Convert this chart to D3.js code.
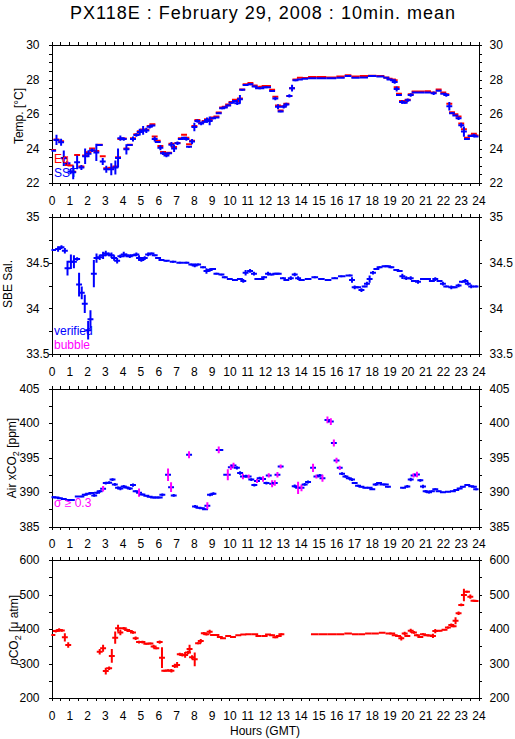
<!DOCTYPE html>
<html>
<head>
<meta charset="utf-8">
<script src="https://cdn.jsdelivr.net/npm/d3@7"></script>
<style>
body { margin: 0; background: #fff; }
text { font-family: "Liberation Sans", Arial, sans-serif; }
</style>
</head>
<body>
<svg id="chart" width="515" height="739"></svg>
<script>
// hour tick labels
const hourLabels = d3.range(0, 25)

// panel 1 : temperature
const tempHours = [0.09,0.28,0.54,0.69,0.9,1.07,1.22,1.44,1.68,1.89,2.08,2.28,2.52,2.71,2.88,3.08,3.36,3.59,3.74,3.87,
  4.06,4.21,4.4,4.58,4.77,4.96,5.15,5.33,5.52,5.67,5.8,5.97,6.12,6.27,6.46,6.61,6.74,6.89,7.08,7.27,
  7.45,7.58,7.73,7.9,8.03,8.2,8.41,8.61,8.74,8.89,9.08,9.27,9.4,9.59,9.74,9.93,10.12,10.31,10.44,10.59,
  10.72,10.91,11.18,11.42,11.61,11.8,11.98,12.17,12.4,12.58,12.73,12.88,13.05,13.2,13.37,13.52,13.71,13.96,14.23,14.61,
  15.17,15.73,16.29,16.67,17.04,17.6,17.98,18.54,18.82,19.0,19.19,19.29,19.4,19.53,19.7,19.85,20.02,20.19,20.41,20.79,
  21.16,21.48,21.76,22.02,22.19,22.36,22.51,22.7,22.88,23.03,23.18,23.35,23.56,23.74,23.89]
const sstValues = [23.87,24.5,24.36,23.43,23.14,22.66,22.62,23.2,22.9,23.55,23.7,23.9,23.77,24.2,23.25,22.8,22.8,22.9,23.45,24.6,
  24.55,23.95,24.2,24.55,24.78,24.95,25.05,25.05,25.26,25.33,24.55,24.38,24.05,23.72,23.6,23.72,24.22,24.0,24.3,24.55,
  24.62,24.55,24.1,24.4,25.25,25.6,25.45,25.55,25.65,25.6,25.75,25.8,26.05,26.33,26.38,26.5,26.65,26.75,26.62,26.85,
  27.4,27.68,27.72,27.6,27.5,27.5,27.55,27.55,27.33,26.9,26.42,26.15,26.42,26.55,27.05,27.5,27.95,28.0,28.05,28.07,
  28.07,28.07,28.1,28.2,28.1,28.12,28.2,28.17,28.1,28.0,27.95,27.85,27.45,27.1,26.7,26.65,26.8,27.1,27.25,27.25,
  27.25,27.2,27.35,27.17,27.1,26.45,26.05,25.92,25.75,25.35,24.98,24.55,24.72,24.75,24.7]
const sstSd = [0,0.3,0.2,0.45,0.1,0.15,0.4,0.4,0.15,0.45,0.2,0.1,0.5,0.05,0.2,0.2,0.35,0.4,0.55,0.15,
  0.1,0.3,0.05,0.15,0.1,0.2,0.25,0.15,0.1,0.05,0.15,0.05,0.15,0.1,0.1,0.05,0.15,0.2,0.1,0.05,
  0.05,0.1,0.05,0.15,0.25,0.1,0.1,0.05,0.15,0.25,0.05,0,0.05,0.05,0.05,0.05,0.05,0.05,0.1,0.25,
  0.05,0.05,0.05,0.05,0.05,0,0,0,0.05,0.1,0.15,0.05,0.1,0.1,0.1,0.2,0.05,0,0,0,
  0,0,0,0,0,0,0,0,0,0,0,0.1,0.15,0.05,0.1,0.05,0.1,0.1,0,0,
  0,0.1,0,0,0.1,0.25,0.05,0,0.1,0.15,0.3,0.05,0.05,0.1,0]
const eqValues = [23.92,24.52,24.42,23.45,23.05,23.02,22.65,23.62,22.95,23.6,23.78,24.0,23.85,24.22,23.55,22.85,22.88,22.95,23.5,24.55,
  24.58,24.0,24.22,24.6,24.82,25.0,25.1,25.08,25.3,25.4,24.7,24.45,24.15,23.8,23.68,23.75,24.28,24.08,24.32,24.6,
  24.8,24.62,24.25,24.45,25.3,25.65,25.5,25.6,25.7,25.65,25.8,25.85,26.08,26.38,26.42,26.55,26.7,26.82,26.75,26.9,
  27.42,27.72,27.8,27.65,27.55,27.58,27.62,27.62,27.4,27.0,26.5,26.2,26.45,26.6,27.05,27.5,28.0,28.1,28.08,28.15,
  28.15,28.12,28.18,28.25,28.18,28.2,28.22,28.2,28.12,28.05,28.0,27.95,27.55,27.18,26.75,26.72,26.82,27.15,27.3,27.3,
  27.32,27.25,27.42,27.25,27.15,26.6,26.1,25.98,25.85,25.45,25.12,24.62,24.75,24.85,24.75]

// panel 2 : salinity
const salHours = [0.09,0.37,0.56,0.75,0.9,1.09,1.26,1.44,1.55,1.7,1.87,2.06,2.19,2.38,2.53,2.71,2.9,3.05,3.22,3.37,
  3.52,3.69,3.87,4.06,4.21,4.4,4.58,4.77,4.92,5.05,5.24,5.43,5.62,5.8,5.99,6.18,6.46,6.83,7.21,7.58,
  7.86,8.05,8.24,8.52,8.71,8.89,9.08,9.27,9.55,9.74,10.02,10.31,10.59,10.78,10.91,11.16,11.38,11.57,11.8,11.95,
  12.17,12.36,12.58,12.77,13.01,13.2,13.45,13.67,13.86,14.05,14.42,14.8,15.17,15.54,15.92,16.29,16.76,16.89,17.04,17.23,
  17.42,17.6,17.73,17.88,18.07,18.26,18.44,18.72,18.91,19.1,19.38,19.57,19.72,19.94,20.19,20.37,20.6,20.88,21.16,21.38,
  21.57,21.81,22.0,22.19,22.47,22.66,22.88,23.07,23.26,23.4,23.59,23.87]
const salValues = [34.64,34.65,34.67,34.63,34.44,34.51,34.51,34.54,34.26,34.17,34.05,33.76,33.88,34.38,34.55,34.56,34.58,34.6,34.59,34.58,
  34.55,34.52,34.57,34.59,34.58,34.57,34.58,34.59,34.55,34.53,34.55,34.59,34.6,34.58,34.55,34.53,34.52,34.51,34.5,34.5,
  34.48,34.47,34.48,34.45,34.41,34.42,34.43,34.38,34.37,34.34,34.32,34.31,34.32,34.3,34.39,34.41,34.38,34.32,34.32,34.34,
  34.38,34.37,34.38,34.38,34.33,34.31,34.33,34.37,34.33,34.31,34.32,34.34,34.32,34.31,34.33,34.35,34.36,34.31,34.23,34.23,
  34.2,34.24,34.27,34.32,34.39,34.43,34.45,34.46,34.46,34.45,34.42,34.41,34.35,34.33,34.33,34.3,34.29,34.32,34.32,34.3,
  34.32,34.3,34.27,34.24,34.23,34.23,34.25,34.29,34.3,34.27,34.24,34.24]
const salSd = [0.01,0.03,0.02,0.03,0.08,0.08,0.07,0.02,0.13,0.07,0.1,0.1,0.1,0.15,0.05,0.03,0.04,0.03,0.02,0.03,
  0.03,0.03,0.02,0.03,0.02,0.02,0.01,0.02,0.03,0.02,0.02,0.02,0.01,0.01,0.01,0.01,0.01,0.01,0.01,0.01,
  0.01,0.02,0.01,0.01,0.03,0.02,0.01,0.01,0.01,0.01,0.01,0.01,0.01,0.02,0.03,0.02,0.02,0.01,0.01,0.01,
  0.02,0.01,0.01,0.01,0.01,0.01,0.02,0.02,0.02,0.01,0.01,0.01,0.01,0.01,0.01,0.01,0.01,0.03,0.02,0.01,
  0.02,0.01,0.02,0.04,0.02,0.01,0.01,0.01,0.01,0.01,0.01,0.01,0.03,0.02,0.02,0.01,0.02,0.01,0.01,0.01,
  0.02,0.01,0.02,0.01,0.02,0.01,0.02,0.01,0.02,0.02,0.02,0.01]

// panel 3 : air xCO2
const xco2Hours = [0.09,0.28,0.47,0.69,0.94,1.68,1.87,2.06,2.24,2.4,2.56,2.71,2.9,3.05,3.24,3.43,3.56,3.74,3.87,4.06,
  4.21,4.4,4.58,4.73,4.92,5.11,5.33,5.52,5.71,5.89,6.08,6.23,6.55,6.72,6.87,7.73,8.07,8.26,8.45,8.63,
  8.76,8.91,9.1,9.4,9.91,10.08,10.23,10.42,10.6,10.76,10.93,11.08,11.23,11.4,11.55,11.7,11.89,12.08,12.21,12.4,
  12.55,12.7,12.88,13.67,13.86,14.05,14.23,14.42,14.7,14.89,15.08,15.23,15.51,15.7,15.87,16.02,16.2,16.33,16.52,16.71,
  16.89,17.04,17.23,17.42,17.64,17.88,18.03,18.22,18.41,18.6,18.79,18.91,19.76,20.0,20.19,20.35,20.54,20.73,20.88,21.03,
  21.22,21.38,21.57,21.76,22.0,22.28,22.56,22.75,22.94,23.12,23.37,23.59,23.74,23.87]
const xco2Values = [389.25,389.2,389.1,389.0,388.85,389.35,389.6,389.75,389.85,389.5,389.9,390.1,390.46,391.3,391.35,391.8,391.1,390.6,390.5,390.8,
  390.65,390.5,391.0,390.1,389.9,389.65,389.45,389.3,389.2,389.2,389.2,389.6,392.5,390.7,389.5,395.4,387.9,387.7,387.65,387.5,
  388.0,389.6,389.75,396.1,392.5,393.6,393.85,393.5,392.75,392.25,392.3,392.25,391.8,391.0,391.6,392.0,391.9,391.3,392.4,391.2,
  391.3,392.5,393.7,390.85,390.6,390.6,391.1,391.45,393.5,392.25,392.4,392.0,400.45,400.2,397.1,394.55,393.5,392.65,392.25,392.0,
  391.8,391.3,390.9,390.75,390.6,390.6,390.4,391.1,391.3,391.1,391.1,390.75,390.6,390.8,391.8,392.4,392.55,391.7,390.8,390.1,
  389.95,390.1,390.4,390.1,389.95,390.05,390.1,390.3,390.5,390.75,391.0,390.85,390.75,390.4]
const xco2Sd = [0.1,0.1,0.1,0.1,0.1,0.1,0.15,0.1,0.1,0.2,0.15,0.2,0.4,0.2,0.2,0.2,0.2,0.2,0.25,0.2,
  0.15,0.2,0.25,0.15,0.6,0.15,0.1,0.1,0.1,0.1,0.1,0.2,0.9,0.7,0.2,0.5,0.2,0.1,0.1,0.1,
  0.5,0.2,0.2,0.5,0.8,0.4,0.4,0.25,0.25,0.4,0.2,0.3,0.2,0.2,0.3,0.2,0.4,0.2,0.3,0.5,
  0.4,0.4,0.3,0.25,0.9,0.5,0.2,0.2,0.6,0.3,0.2,0.5,0.5,0.5,0.5,0.4,0.3,0.2,0.2,0.2,
  0.2,0.15,0.15,0.1,0.1,0.1,0.1,0.2,0.15,0.1,0.1,0.1,0.1,0.2,0.25,0.3,0.4,0.2,0.25,0.2,
  0.15,0.1,0.15,0.1,0.1,0.1,0.1,0.1,0.1,0.1,0.1,0.1,0.1,0.15]

// panel 4 : pCO2
const pco2Hours = [0.05,0.24,0.43,0.58,0.75,0.94,2.71,2.9,3.05,3.24,3.39,3.58,3.74,3.87,4.06,4.25,4.4,4.58,4.73,4.92,
  5.11,5.33,5.56,5.74,5.89,6.08,6.21,6.34,6.55,6.74,6.93,7.06,7.21,7.36,7.51,7.67,7.76,7.9,8.05,8.24,
  8.39,8.56,8.71,8.89,9.08,9.27,9.46,9.64,9.93,10.2,10.5,10.78,11.07,11.45,11.63,11.98,12.17,12.4,12.58,12.77,
  12.92,14.75,15.25,15.75,16.25,16.67,17.1,17.45,17.8,18.2,18.6,18.95,19.15,19.29,19.48,19.66,19.85,20.0,20.19,20.37,
  20.54,20.73,20.88,21.07,21.25,21.44,21.57,21.81,22.09,22.28,22.47,22.6,22.71,22.88,23.03,23.18,23.35,23.54,23.72,23.91]
const pco2Values = [382.6,394,397,396,376,353.6,334,344,278,286,322,375,402,390,402,397,394,390,373,362,
  362,357,358,349,344,362,317,279,280,279,293,296,327,325,325,332,342,318,312,358.5,
  365,387.5,385,392,382.6,382.6,377,373,380,377,382,384,385,385,380,380,384,382,376,380,
  385,385,385,385,385,387,385,385,387,387,389,387,387,382,380,373,387,380,395,390,
  382,377,385,382,381,380,394,395,398,404,411.6,408,424,445.5,469.6,498.6,508,493.7,482,481]
const pco2Sd = [3,4,5,4,12,8,8,10,10,5,20,18,10,8,4,4,3,4,5,4,
  4,3,3,5,3,5,30,3,3,5,6,8,4,5,8,5,12,6,20,3,
  6,4,4,6,3,0,2,2,0,2,0,0,0,0,0,0,0,2,3,2,
  3,0,0,0,0,0,0,0,0,0,0,0,0,2,2,6,5,3,6,4,
  3,3,3,2,2,6,6,2,2,3,4,3,10,5,4,18,3,6,3,0]

const svg = d3.select("#chart")
const left = 51.5, right = 478.5
const x = d3.scaleLinear().domain([0, 24]).range([left, right])

const panels = [
  {top: 45, bottom: 183, domain: [22, 30], major: 2, minor: 0.5},
  {top: 217, bottom: 354, domain: [33.5, 35], major: 0.5, minor: 0.25},
  {top: 388.5, bottom: 526.5, domain: [385, 405], major: 5, minor: 2.5},
  {top: 560, bottom: 698, domain: [200, 600], major: 100, minor: 50}
]

svg.append("text").attr("x", 263).attr("y", 18.5).attr("text-anchor", "middle")
  .attr("font-size", 18).attr("letter-spacing", 1).text("PX118E : February 29, 2008 : 10min. mean")

const clipRect = (id, p) => {
  svg.append("clipPath").attr("id", id).append("rect")
    .attr("x", left).attr("y", p.top).attr("width", right - left).attr("height", p.bottom - p.top)
}

const fmt = d => d3.format("~g")(d)

panels.forEach((p, k) => {
  p.y = d3.scaleLinear().domain(p.domain).range([p.bottom, p.top])
  const minorT = d3.range(p.domain[0], p.domain[1] + 1e-9, p.minor)
  const majorT = d3.range(p.domain[0], p.domain[1] + 1e-9, p.major)
  const halfHours = d3.range(0, 24.01, 0.5)

  const g = svg.append("g").attr("class", "axes")
  g.append("g").attr("transform", `translate(${left},0)`)
    .call(d3.axisLeft(p.y).tickValues(minorT).tickSize(3).tickFormat(""))
  // left labels lined up on the decimal point
  const la = g.append("g").attr("transform", `translate(${left},0)`)
    .call(d3.axisLeft(p.y).tickValues(majorT).tickSize(3).tickFormat(d => String(Math.trunc(d))))
  la.selectAll(".tick text").attr("x", -12).attr("text-anchor", "end")
  la.selectAll(".tick").filter(d => d % 1 !== 0).append("text")
    .attr("x", -12).attr("dy", "0.32em").attr("text-anchor", "start").attr("fill", "#000")
    .text(d => "." + String(d).split(".")[1])
  g.append("g").attr("transform", `translate(${right},0)`)
    .call(d3.axisRight(p.y).tickValues(minorT).tickSize(3).tickFormat(""))
  g.append("g").attr("transform", `translate(${right},0)`)
    .call(d3.axisRight(p.y).tickValues(majorT).tickSize(3).tickPadding(8).tickFormat(fmt))
  g.append("g").attr("transform", `translate(0,${p.top})`)
    .call(d3.axisTop(x).tickValues(halfHours).tickSize(3).tickFormat(""))
  g.append("g").attr("transform", `translate(0,${p.bottom})`)
    .call(d3.axisBottom(x).tickValues(halfHours).tickSize(3).tickFormat(""))
  g.append("g").attr("transform", `translate(0,${p.bottom})`)
    .call(d3.axisBottom(x).tickValues(hourLabels).tickSize(0).tickPadding(13).tickFormat(d3.format("d")))
    .select(".domain").remove()
  g.selectAll(".domain").attr("stroke", "#000").attr("shape-rendering", "crispEdges")
  g.selectAll(".tick line").attr("stroke", "#000").attr("shape-rendering", "crispEdges")
  g.selectAll(".tick text").attr("font-size", 12).attr("fill", "#000")
    .attr("font-family", "Liberation Sans, Arial, sans-serif")

  clipRect("clip" + k, p)
})

// each mean is a short step with its vertical spread bar
const drawSeries = (k, hours, values, sd, color, barColor) => {
  const p = panels[k]
  const g = svg.append("g").attr("clip-path", `url(#clip${k})`)
  const gap = 0.75, half = 1 / 6
  hours.forEach((h, i) => {
    const prev = hours[i - 1], next = hours[i + 1]
    const dl = prev != null && h - prev <= gap ? Math.max(half, (h - prev) / 2) : half
    const dr = next != null && next - h <= gap ? Math.max(half, (next - h) / 2) : half
    const v = values[i]
    g.append("line").attr("x1", x(h - dl)).attr("x2", x(h + dr)).attr("y1", p.y(v)).attr("y2", p.y(v))
      .attr("stroke", color).attr("stroke-width", 2)
    if (sd && sd[i] > 0) {
      g.append("line").attr("x1", x(h)).attr("x2", x(h))
        .attr("y1", p.y(v - sd[i])).attr("y2", p.y(v + sd[i]))
        .attr("stroke", barColor ? barColor(sd[i]) : color).attr("stroke-width", 2)
    }
  })
}

drawSeries(0, tempHours, eqValues, null, "#ff0000")
drawSeries(0, tempHours, sstValues, sstSd, "#0000ff")
drawSeries(1, salHours, salValues, salSd, "#0000ff")
drawSeries(2, xco2Hours, xco2Values, xco2Sd, "#0000ff", s => s >= 0.3 ? "#ff00ff" : "#0000ff")
drawSeries(3, pco2Hours, pco2Values, pco2Sd, "#ff0000")

// legends inside panels
const legend = (tx, ty, txt, color) =>
  svg.append("text").attr("x", tx).attr("y", ty).attr("font-size", 12).attr("fill", color).text(txt)
legend(54, 163, "Eq", "#ff0000")
legend(54, 177, "SST", "#0000ff")
legend(54, 335, "verified", "#0000ff")
legend(54, 348.5, "bubble", "#ff00ff")
legend(54, 507, "σ ≥ 0.3", "#ff00ff")

// y axis titles
const ytitle = (bx, cy, parts) => {
  const t = svg.append("text").attr("transform", `translate(${bx},${cy}) rotate(-90)`)
    .attr("text-anchor", "middle").attr("font-size", 12)
  parts.forEach(pt => {
    const s = t.append("tspan").text(pt.t)
    if (pt.sub) s.attr("font-size", 9).attr("dy", 3)
    if (pt.back) s.attr("dy", -3)
    if (pt.it) s.attr("font-style", "italic")
  })
}
ytitle(22.5, 116, [{t: "Temp. [°C]"}])
ytitle(11.5, 284, [{t: "SBE Sal."}])
ytitle(15.5, 458, [{t: "Air xCO"}, {t: "2", sub: true}, {t: " [ppm]", back: true}])
ytitle(17.5, 630, [{t: "p", it: true}, {t: "CO"}, {t: "2", sub: true}, {t: " [μ atm]", back: true}])

svg.append("text").attr("x", 265).attr("y", 735).attr("text-anchor", "middle")
  .attr("font-size", 12).text("Hours (GMT)")
</script>
</body>
</html>
